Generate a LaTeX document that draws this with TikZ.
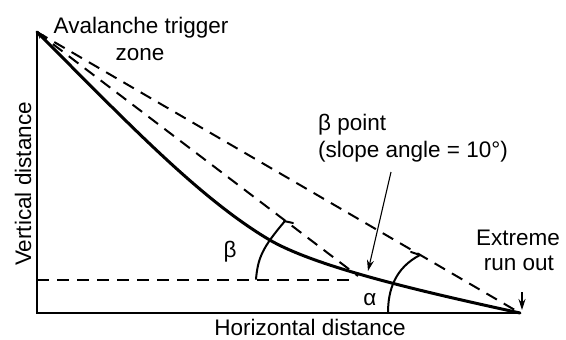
\documentclass[tikz,border=0pt]{standalone}
\usepackage{fontspec}
\setmainfont{Liberation Sans}
\usetikzlibrary{arrows.meta}
\begin{document}
\begin{tikzpicture}[x=1pt,y=-1pt,
  lbl/.style={font=\fontsize{22.5}{26}\selectfont, inner sep=0pt},
  axisline/.style={line width=2.4pt, line join=miter},
  slopeline/.style={line width=3pt, line cap=round, line join=round},
  guide/.style={line width=2pt, dash pattern=on 12pt off 8pt},
  anglearc/.style={line width=2pt, line cap=round},
  pointer/.style={line width=1.1pt, -{Stealth[length=11pt,width=7pt]}}]
\useasboundingbox (0,0) rectangle (566,340);
% key points
\coordinate (apex) at (37,32);
\coordinate (origin) at (37,313);
\coordinate (runout) at (520,313);
\coordinate (betapt) at (358,276);
\coordinate (hend) at (353,280);
\coordinate (hstart) at (37,280);
\coordinate (mid) at (268,239);
% axes
\draw[axisline] (apex) -- (origin) -- (runout);
% dashed guides
\draw[guide] (apex) -- (runout);
\draw[guide] (apex) -- (betapt);
\draw[guide] (hstart) -- (hend);
% slope profile
\draw[slopeline] (apex) .. controls (127,122) and (198,197) .. (mid)
  .. controls (318,269) and (440,295.4) .. (runout);
\coordinate (apextail) at (45,40);
\draw[line width=1.2pt, -{Stealth[length=7pt,width=6pt]}] (apextail) -- (apex);
% angle arcs
\draw[anglearc] (256,279) .. controls (258,258) and (262,248) .. (285,221);
\draw[anglearc] (284,221) -- (293,223);
\draw[anglearc] (388,313) .. controls (388,290) and (395,268) .. (420,255);
\draw[anglearc] (420,255) -- (411,252);
% labels
\node[lbl, anchor=base] (trig) at (141,33) {Avalanche trigger};
\node[lbl, anchor=base] (zone) at (140,60) {zone};
\node[lbl, anchor=base west] (bp) at (318,130) {β point};
\node[lbl, anchor=base west] (sa) at (318,157) {(slope angle = 10°)};
\node[lbl, anchor=base, rotate=90] (vd) at (31,184) {Vertical distance};
\node[lbl, anchor=base] (hd) at (310,335) {Horizontal distance};
\node[lbl, anchor=base] (ext) at (518,245) {Extreme};
\node[lbl, anchor=base] (ro) at (519,270) {run out};
\node[lbl] (blbl) at (230,252) {β};
\node[lbl, anchor=base] (albl) at (370,305) {α};
% pointers
\coordinate (bptail) at (391,172);
\coordinate (bptip) at (368,271);
\draw[pointer] (bptail) -- (bptip);
\coordinate (rotail) at (522,292);
\coordinate (rotip) at (522,310);
\draw[pointer] (rotail) -- (rotip);
\end{tikzpicture}
\end{document}
